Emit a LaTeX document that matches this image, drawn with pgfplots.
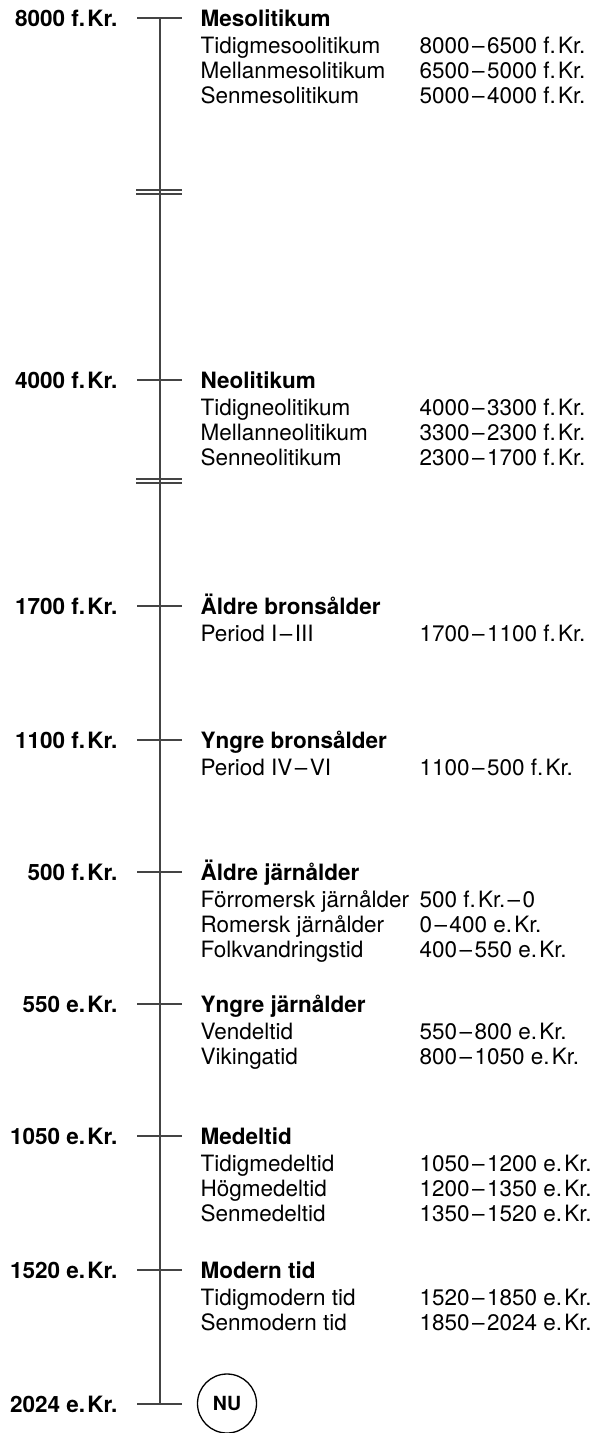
\documentclass[border=0pt]{standalone}
\usepackage{pgfplots}
\pgfplotsset{compat=1.18}
\usepackage{fontspec}
\setmainfont{TeX Gyre Heros}
\definecolor{axisgrey}{HTML}{444444}
\newcommand{\fs}{\fontsize{22.5bp}{25bp}\selectfont}
\newcommand{\ks}{\kern0.1em}
\newcommand{\dd}{\kern0.11em–\kern0.11em}
\begin{document}
\begin{tikzpicture}
\begin{axis}[
  scale only axis, width=595bp, height=1433bp,
  xmin=0, xmax=595, ymin=0, ymax=1433, y dir=reverse,
  hide axis, clip=false,
  every node/.style={inner sep=0pt, outer sep=0pt},
]
% bounding box
\addplot[draw=none] coordinates {(0,0) (595,1433)};
% main line
\addplot[axisgrey, line width=2bp] coordinates {(160,18) (160,1404)};
% ticks
\pgfplotsinvokeforeach{18,380,606,740,872,1004,1136,1270,1404}{
  \addplot[axisgrey, line width=1.1bp] coordinates {(137,#1) (182,#1)};
}
% break marks
\pgfplotsinvokeforeach{190,194,479,483}{
  \addplot[axisgrey, line width=1.5bp] coordinates {(136,#1) (182,#1)};
}
% NU circle
\addplot[only marks, mark=o, mark size=29.5bp, mark options={draw=black, line width=1.3bp}] coordinates {(227,1403.5)};
\node[font=\fontsize{19.5bp}{22bp}\selectfont\bfseries] at (axis cs:227,1403.5) {NU};

% left labels
\begin{scope}[every node/.append style={anchor=base east, yshift=-8.1bp, font=\fs\bfseries}]
\node at (axis cs:121,18) {8000 f.\ks Kr.};
\node at (axis cs:121,380) {4000 f.\ks Kr.};
\node at (axis cs:121,606) {1700 f.\ks Kr.};
\node at (axis cs:121,740) {1100 f.\ks Kr.};
\node at (axis cs:121,872) {500 f.\ks Kr.};
\node at (axis cs:121,1004) {550 e.\ks Kr.};
\node at (axis cs:121,1136) {1050 e.\ks Kr.};
\node at (axis cs:121,1270) {1520 e.\ks Kr.};
\node at (axis cs:121,1404) {2024 e.\ks Kr.};
\end{scope}

% titles
\begin{scope}[every node/.append style={anchor=base west, yshift=-8.1bp, font=\fs\bfseries}]
\node at (axis cs:197,18) {Mesolitikum};
\node at (axis cs:197,380) {Neolitikum};
\node at (axis cs:197,606) {Äldre bronsålder};
\node at (axis cs:197,740) {Yngre bronsålder};
\node at (axis cs:197,872) {Äldre järnålder};
\node at (axis cs:197,1004) {Yngre järnålder};
\node at (axis cs:197,1136) {Medeltid};
\node at (axis cs:197,1270) {Modern tid};
\end{scope}

% sub periods
\begin{scope}[every node/.append style={anchor=base west, yshift=-8.1bp, font=\fs}]
\node at (axis cs:197,45) {Tidigmesoolitikum};
\node at (axis cs:197,70) {Mellanmesolitikum};
\node at (axis cs:197,95) {Senmesolitikum};
\node at (axis cs:197,407) {Tidigneolitikum};
\node at (axis cs:197,432) {Mellanneolitikum};
\node at (axis cs:197,457) {Senneolitikum};
\node at (axis cs:197,633) {Period I\dd III};
\node at (axis cs:197,767) {Period IV\dd VI};
\node at (axis cs:197,899) {Förromersk järnålder};
\node at (axis cs:197,924) {Romersk järnålder};
\node at (axis cs:197,949) {Folkvandringstid};
\node at (axis cs:197,1031) {Vendeltid};
\node at (axis cs:197,1056) {Vikingatid};
\node at (axis cs:197,1163) {Tidigmedeltid};
\node at (axis cs:197,1188) {Högmedeltid};
\node at (axis cs:197,1213) {Senmedeltid};
\node at (axis cs:197,1297) {Tidigmodern tid};
\node at (axis cs:197,1322) {Senmodern tid};
\end{scope}

% dates
\begin{scope}[every node/.append style={anchor=base west, yshift=-8.1bp, font=\fs}]
\node at (axis cs:416,45) {8000\dd 6500 f.\ks Kr.};
\node at (axis cs:416,70) {6500\dd 5000 f.\ks Kr.};
\node at (axis cs:416,95) {5000\dd 4000 f.\ks Kr.};
\node at (axis cs:416,407) {4000\dd 3300 f.\ks Kr.};
\node at (axis cs:416,432) {3300\dd 2300 f.\ks Kr.};
\node at (axis cs:416,457) {2300\dd 1700 f.\ks Kr.};
\node at (axis cs:416,633) {1700\dd 1100 f.\ks Kr.};
\node at (axis cs:416,767) {1100\dd 500 f.\ks Kr.};
\node at (axis cs:416,899) {500 f.\ks Kr.\dd 0};
\node at (axis cs:416,924) {0\dd 400 e.\ks Kr.};
\node at (axis cs:416,949) {400\dd 550 e.\ks Kr.};
\node at (axis cs:416,1031) {550\dd 800 e.\ks Kr.};
\node at (axis cs:416,1056) {800\dd 1050 e.\ks Kr.};
\node at (axis cs:416,1163) {1050\dd 1200 e.\ks Kr.};
\node at (axis cs:416,1188) {1200\dd 1350 e.\ks Kr.};
\node at (axis cs:416,1213) {1350\dd 1520 e.\ks Kr.};
\node at (axis cs:416,1297) {1520\dd 1850 e.\ks Kr.};
\node at (axis cs:416,1322) {1850\dd 2024 e.\ks Kr.};
\end{scope}
\end{axis}
\end{tikzpicture}
\end{document}
